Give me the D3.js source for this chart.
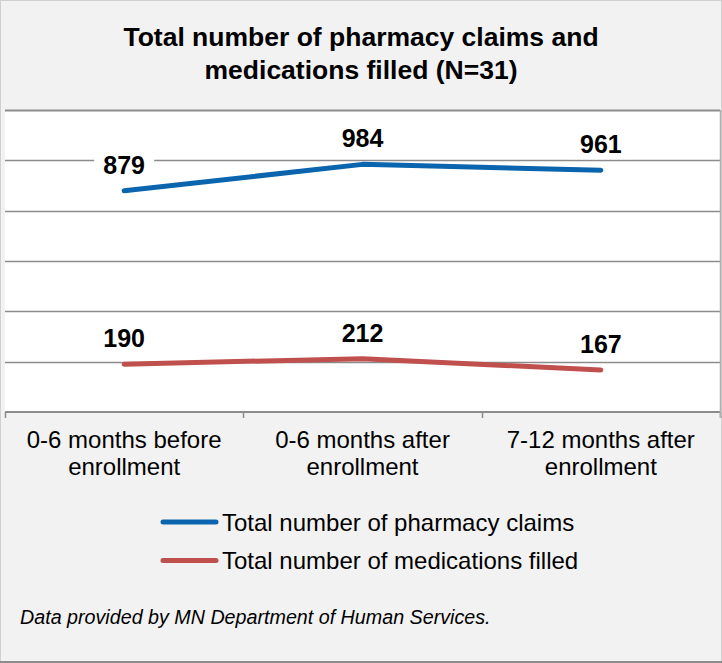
<!DOCTYPE html>
<html>
<head>
<meta charset="utf-8">
<script src="https://cdn.jsdelivr.net/npm/d3@7"></script>
<style>
  body { margin: 0; background: #fff; }
  svg { display: block; font-family: "Liberation Sans", Arial, sans-serif; }
</style>
</head>
<body>
<svg id="chart" width="722" height="663"></svg>
<script>
// Chart data
const periods = [
  ["0-6 months before", "enrollment"],
  ["0-6 months after", "enrollment"],
  ["7-12 months after", "enrollment"]
];
const claims = [879, 984, 961];
const meds = [190, 212, 167];
const seriesNames = ["Total number of pharmacy claims", "Total number of medications filled"];
const seriesColors = ["#0b65ae", "#c0504d"];
const yTicks = [0, 200, 400, 600, 800, 1000, 1200];

const svg = d3.select("#chart");
const W = 722, H = 663;

// Outer frame
svg.append("rect").attr("x", 0.5).attr("y", 0.5).attr("width", W - 1).attr("height", H - 1)
  .attr("fill", "#f2f2f2").attr("stroke", "#d0d0d0");
svg.append("line").attr("x1", 0).attr("x2", W).attr("y1", H - 1).attr("y2", H - 1)
  .attr("stroke", "#8c8c8c").attr("stroke-width", 2);

// Title
const title = svg.append("text").attr("text-anchor", "middle")
  .attr("font-weight", "bold").attr("font-size", 26.5).attr("fill", "#000");
title.append("tspan").attr("x", 361).attr("y", 46).text("Total number of pharmacy claims and");
title.append("tspan").attr("x", 361).attr("y", 79).text("medications filled (N=31)");

// Plot area
const plotL = 5, plotR = 720, plotT = 110, plotB = 412;
const x = d3.scaleBand().domain(d3.range(periods.length)).range([plotL, plotR]);
const y = d3.scaleLinear().domain([0, 1200]).range([plotB, plotT]);

svg.append("rect").attr("x", plotL).attr("y", plotT).attr("width", plotR - plotL).attr("height", plotB - plotT)
  .attr("fill", "#fff");

// Gridlines
svg.append("g").selectAll("line").data(yTicks.slice(1)).join("line")
  .attr("x1", plotL).attr("x2", plotR)
  .attr("y1", d => Math.round(y(d)) + 0.5).attr("y2", d => Math.round(y(d)) + 0.5)
  .attr("stroke", "#8c8c8c").attr("stroke-width", d => d === 1200 ? 2 : 1.5);

// X axis
const xAxis = svg.append("g");
xAxis.append("line").attr("x1", plotL).attr("x2", plotR).attr("y1", plotB).attr("y2", plotB)
  .attr("stroke", "#8c8c8c").attr("stroke-width", 2);
const bounds = x.domain().map(i => x(i)).concat([plotR]);
xAxis.selectAll("line.tick").data(bounds).join("line").attr("class", "tick")
  .attr("x1", d => Math.round(d) + 0.5).attr("x2", d => Math.round(d) + 0.5)
  .attr("y1", plotB).attr("y2", plotB + 6)
  .attr("stroke", "#8c8c8c").attr("stroke-width", 1.5);
// Right edge of plot
svg.append("line").attr("x1", plotR + 0.5).attr("x2", plotR + 0.5).attr("y1", plotT).attr("y2", plotB + 6)
  .attr("stroke", "#b0b0b0").attr("stroke-width", 1.5);

const xLabels = xAxis.selectAll("text").data(periods).join("text")
  .attr("text-anchor", "middle").attr("font-size", 24).attr("fill", "#000");
xLabels.each(function(d, i) {
  const t = d3.select(this);
  d.forEach((line, j) => {
    t.append("tspan").attr("x", x(i) + x.bandwidth() / 2).attr("y", 448 + j * 27).text(line);
  });
});

// Lines
const line = d3.line().x((d, i) => x(i) + x.bandwidth() / 2).y(d => y(d));
[claims, meds].forEach((vals, s) => {
  svg.append("path").datum(vals).attr("d", line)
    .attr("fill", "none").attr("stroke", seriesColors[s]).attr("stroke-width", 5)
    .attr("stroke-linecap", "round").attr("stroke-linejoin", "round");
});

// Value labels
[claims, meds].forEach(vals => {
  const g = svg.append("g");
  const lbl = g.selectAll("g").data(vals).join("g")
    .attr("transform", (d, i) => `translate(${x(i) + x.bandwidth() / 2},${y(d) - 17})`);
  lbl.append("rect").attr("x", -30).attr("y", -22).attr("width", 60).attr("height", 28).attr("fill", "#fff");
  lbl.append("text").attr("text-anchor", "middle").attr("font-size", 25).attr("font-weight", "bold")
    .attr("fill", "#000").text(d => d);
});

// Legend
const legend = svg.append("g").selectAll("g").data(seriesNames).join("g")
  .attr("transform", (d, i) => `translate(0,${522 + i * 38.5})`);
legend.append("line").attr("x1", 163).attr("x2", 216).attr("y1", 0).attr("y2", 0)
  .attr("stroke", (d, i) => seriesColors[i]).attr("stroke-width", 5).attr("stroke-linecap", "round");
legend.append("text").attr("x", 222).attr("y", 8.5).attr("font-size", 24).attr("fill", "#000").text(d => d);

// Source note
svg.append("text").attr("x", 20).attr("y", 624).attr("font-size", 19.7).attr("font-style", "italic")
  .attr("fill", "#000").text("Data provided by MN Department of Human Services.");
</script>
</body>
</html>
